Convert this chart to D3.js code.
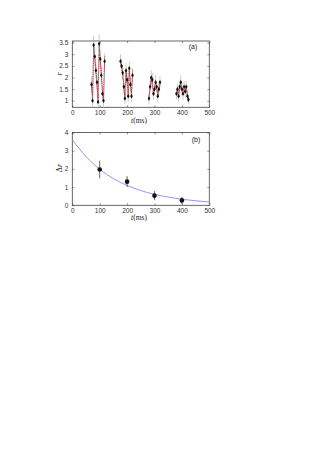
<!DOCTYPE html>
<html>
<head>
<meta charset="utf-8">
<script src="https://cdn.jsdelivr.net/npm/d3@7"></script>
<style>
  body { margin: 0; background: #fff; }
  svg { display: block; font-family: 'Liberation Sans', Arial, sans-serif; }
  .tick text { font-size: 6.5px; fill: #333; }
  .box { fill: none; stroke: #444; stroke-width: 0.8; }
</style>
</head>
<body>
<svg id="chart" width="332" height="470"></svg>
<script>
// panel (a): measured r (black) and model r (red), four bursts
const timesA = [
  70, 74, 78, 82, 86, 90, 94, 98, 102, 106, 110, 114, 118,
  176, 180, 184, 188, 192, 196, 200, 204, 208, 212, 216, 220,
  280, 284, 288, 292, 296, 300, 304, 308, 312, 316, 320,
  380, 384, 388, 392, 396, 400, 404, 408, 412, 416, 420, 424
]
const burstA = [
  0, 0, 0, 0, 0, 0, 0, 0, 0, 0, 0, 0, 0,
  1, 1, 1, 1, 1, 1, 1, 1, 1, 1, 1, 1,
  2, 2, 2, 2, 2, 2, 2, 2, 2, 2, 2,
  3, 3, 3, 3, 3, 3, 3, 3, 3, 3, 3, 3
]
const rMeasured = [
  1.7, 1.0, 3.4, 2.9, 2.3, 1.8, 0.95, 3.45, 2.8, 2.1, 1.3, 1.0, 2.7,
  2.7, 2.5, 2.2, 1.6, 1.1, 2.3, 1.9, 1.2, 2.4, 1.7, 1.2, 2.1,
  1.1, 1.6, 2.0, 1.9, 1.3, 1.5, 1.8, 1.6, 1.2, 1.5, 1.8,
  1.3, 1.5, 1.2, 1.6, 1.8, 1.5, 1.3, 1.6, 1.4, 1.6, 1.2, 1.05
]
const rError = [
  0.35, 0.3, 0.4, 0.4, 0.35, 0.35, 0.3, 0.4, 0.4, 0.35, 0.3, 0.3, 0.35,
  0.3, 0.3, 0.3, 0.3, 0.25, 0.3, 0.3, 0.25, 0.3, 0.3, 0.25, 0.3,
  0.25, 0.25, 0.3, 0.3, 0.25, 0.25, 0.3, 0.25, 0.25, 0.25, 0.25,
  0.25, 0.25, 0.25, 0.25, 0.3, 0.25, 0.25, 0.25, 0.25, 0.25, 0.25, 0.2
]
const rModel = [
  1.8, 1.2, 3.0, 2.9, 2.4, 1.7, 1.1, 3.0, 2.7, 2.2, 1.5, 1.1, 2.9,
  2.6, 2.5, 2.1, 1.7, 1.2, 2.3, 1.8, 1.3, 2.3, 1.9, 1.3, 2.3,
  1.2, 1.6, 1.9, 1.7, 1.4, 1.6, 1.7, 1.5, 1.3, 1.5, 1.7,
  1.35, 1.5, 1.3, 1.5, 1.7, 1.5, 1.4, 1.5, 1.4, 1.5, 1.3, 1.1
]
const yTicksA = [1, 1.5, 2, 2.5, 3, 3.5]

// panel (b): oscillation amplitude per burst and fitted decay
const timesB = [100, 200, 300, 400]
const deltaR = [1.97, 1.3, 0.53, 0.27]
const deltaErr = [0.48, 0.3, 0.25, 0.2]
const fitT = [0, 50, 100, 150, 200, 250, 300, 350, 400, 450, 500]
const fitR = [3.6, 2.68, 1.98, 1.47, 1.09, 0.81, 0.6, 0.45, 0.33, 0.25, 0.18]
const yTicksB = [0, 1, 2, 3, 4]

const xTicks = [0, 100, 200, 300, 400, 500]

const svg = d3.select('#chart')
const left = 72.3
const right = 209.3
const fmt = d3.format('~g')

const x = d3.scaleLinear().domain([0, 500]).range([left, right])

// Draw the frame, ticks on all four sides (pointing inward)
function frame (y, yTicks, top, bottom) {
  const g = svg.append('g')
  g.append('g')
    .attr('transform', `translate(0,${bottom})`)
    .call(d3.axisBottom(x).tickValues(xTicks).tickSize(-2).tickPadding(3).tickFormat(fmt))
  g.append('g')
    .attr('transform', `translate(0,${top})`)
    .call(d3.axisTop(x).tickValues(xTicks).tickSize(-2).tickFormat(''))
  g.append('g')
    .attr('transform', `translate(${left},0)`)
    .call(d3.axisLeft(y).tickValues(yTicks).tickSize(-2).tickPadding(4).tickFormat(fmt))
  g.append('g')
    .attr('transform', `translate(${right},0)`)
    .call(d3.axisRight(y).tickValues(yTicks).tickSize(-2).tickFormat(''))
  g.selectAll('.domain').remove()
  g.selectAll('.tick line').attr('stroke', '#444').attr('stroke-width', 0.6)
  g.append('rect')
    .attr('class', 'box')
    .attr('x', left)
    .attr('y', top)
    .attr('width', right - left)
    .attr('height', bottom - top)
  return g
}

function xLabel (yPos) {
  const t = svg.append('text')
    .attr('x', 139)
    .attr('y', yPos)
    .attr('text-anchor', 'middle')
    .style('font-size', '7.5px')
    .style('font-family', "'Liberation Serif', serif")
    .attr('fill', '#222')
  t.append('tspan').text('t').style('font-style', 'italic')
  t.append('tspan').text('(ms)')
}

function yLabel (xPos, yPos, parts) {
  const t = svg.append('text')
    .attr('transform', `translate(${xPos},${yPos}) rotate(-90)`)
    .attr('text-anchor', 'middle')
    .style('font-size', '8px')
    .style('font-family', "'Liberation Serif', serif")
    .attr('fill', '#222')
  parts.forEach(p => {
    t.append('tspan').text(p.text).style('font-style', p.italic ? 'italic' : 'normal')
  })
}

// ---- panel (a)
const topA = 41
const bottomA = 107.3
const yA = d3.scaleLinear().domain([0.72, 3.57]).range([bottomA, topA])

frame(yA, yTicksA, topA, bottomA)

const ptsA = timesA.map((t, i) => ({
  t: t, b: burstA[i], r: rMeasured[i], e: rError[i], m: rModel[i]
}))
const bursts = d3.groups(ptsA, d => d.b).map(d => d[1])

const plotA = svg.append('g')

plotA.selectAll('.err')
  .data(ptsA)
  .join('line')
  .attr('class', 'err')
  .attr('x1', d => x(d.t))
  .attr('x2', d => x(d.t))
  .attr('y1', d => yA(d.r - d.e))
  .attr('y2', d => yA(d.r + d.e))
  .attr('stroke', '#a8a8a8')
  .attr('stroke-width', 0.6)

const lineMeas = d3.line().x(d => x(d.t)).y(d => yA(d.r))
const lineModel = d3.line().x(d => x(d.t)).y(d => yA(d.m))

plotA.selectAll('.meas')
  .data(bursts)
  .join('path')
  .attr('class', 'meas')
  .attr('d', lineMeas)
  .attr('fill', 'none')
  .attr('stroke', '#333')
  .attr('stroke-width', 0.45)

plotA.selectAll('.model')
  .data(bursts)
  .join('path')
  .attr('class', 'model')
  .attr('d', lineModel)
  .attr('fill', 'none')
  .attr('stroke', '#e8202a')
  .attr('stroke-width', 0.8)
  .attr('stroke-dasharray', '1.2,1')

plotA.selectAll('.mdot')
  .data(ptsA)
  .join('circle')
  .attr('class', 'mdot')
  .attr('cx', d => x(d.t))
  .attr('cy', d => yA(d.m))
  .attr('r', 0.7)
  .attr('fill', '#f07070')

plotA.selectAll('.dot')
  .data(ptsA)
  .join('path')
  .attr('class', 'dot')
  .attr('d', d3.symbol(d3.symbolDiamond, 6))
  .attr('transform', d => `translate(${x(d.t)},${yA(d.r)})`)
  .attr('fill', '#111')

svg.append('text')
  .attr('x', 193)
  .attr('y', 49)
  .attr('text-anchor', 'middle')
  .style('font-size', '7px')
  .attr('fill', '#222')
  .text('(a)')

yLabel(62, 74, [{ text: 'r', italic: true }])
xLabel(122.5)

// ---- panel (b)
const topB = 132.5
const bottomB = 205.3
const yB = d3.scaleLinear().domain([0, 4]).range([bottomB, topB])

frame(yB, yTicksB, topB, bottomB)

const plotB = svg.append('g')

plotB.append('path')
  .datum(fitT.map((t, i) => [t, fitR[i]]))
  .attr('d', d3.line().x(d => x(d[0])).y(d => yB(d[1])).curve(d3.curveMonotoneX))
  .attr('fill', 'none')
  .attr('stroke', '#7f8ff0')
  .attr('stroke-width', 0.9)

const ptsB = timesB.map((t, i) => ({ t: t, v: deltaR[i], e: deltaErr[i] }))

plotB.selectAll('.err')
  .data(ptsB)
  .join('line')
  .attr('class', 'err')
  .attr('x1', d => x(d.t))
  .attr('x2', d => x(d.t))
  .attr('y1', d => yB(d.v - d.e))
  .attr('y2', d => yB(d.v + d.e))
  .attr('stroke', '#555')
  .attr('stroke-width', 0.9)

plotB.selectAll('.dot')
  .data(ptsB)
  .join('circle')
  .attr('class', 'dot')
  .attr('cx', d => x(d.t))
  .attr('cy', d => yB(d.v))
  .attr('r', 2.3)
  .attr('fill', '#111')

svg.append('text')
  .attr('x', 196)
  .attr('y', 142)
  .attr('text-anchor', 'middle')
  .style('font-size', '7px')
  .attr('fill', '#222')
  .text('(b)')

yLabel(62, 168, [{ text: 'Δ', italic: false }, { text: 'r', italic: true }])
xLabel(220)
</script>
</body>
</html>
